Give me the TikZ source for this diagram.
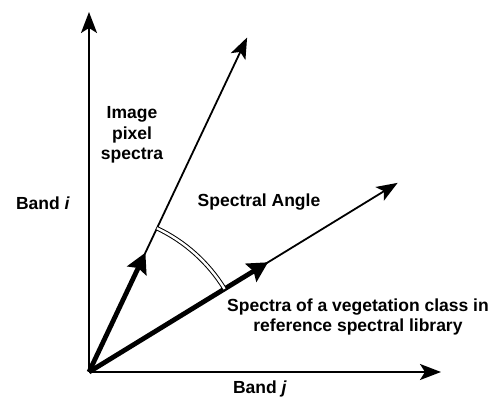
\documentclass[tikz,border=0pt]{standalone}
\usepackage{fontspec}
\setmainfont{Liberation Sans}
\usetikzlibrary{arrows.meta,calc}
\begin{document}
\begin{tikzpicture}[x=1pt,y=1pt,
  axis/.style={line width=2pt,-{Stealth[length=21pt,width=16pt,inset=5pt]}},
  vec/.style={line width=1.8pt,-{Stealth[length=21pt,width=16pt,inset=5pt]}},
  thickvec/.style={line width=4.8pt,-{Stealth[length=20pt,width=21pt,inset=3pt]}},
  lbl/.style={font=\bfseries\fontsize{17.5}{20.5}\selectfont,align=center,inner sep=0pt}]
\useasboundingbox (0,0) rectangle (493,403);
\coordinate (O) at (89,31);
\coordinate (Yt) at (89,391);
\coordinate (Xt) at (441,31);
\coordinate (Pt) at ($(O)+(64.7:370)$);
\coordinate (Vt) at ($(O)+(31.5:362)$);
\coordinate (Pm) at ($(O)+(64.7:132)$);
\coordinate (Vm) at ($(O)+(31.5:210)$);
\draw[axis] (O) -- (Yt);
\draw[axis] (O) -- (Xt);
\draw[vec] (O) -- (Pt);
\draw[vec] (O) -- (Vt);
\draw[thickvec] (O) -- (Pm);
\draw[thickvec] (O) -- (Vm);
\draw[line width=1pt,double=white,double distance=2.4pt]
  ($(O)+(31.5:159)$) arc[start angle=31.5,end angle=64.7,radius=159];
\node[lbl] (bi) at (43,200) {Band \textit{i}};
\node[lbl] (bj) at (260,14) {Band \textit{j}};
\node[lbl] (ips) at (132,268) {Image\\pixel\\spectra};
\node[lbl] (sa) at (259,201) {Spectral Angle};
\node[lbl] (sv) at (358,86) {Spectra of a vegetation class in\\reference spectral library};
\end{tikzpicture}
\end{document}
